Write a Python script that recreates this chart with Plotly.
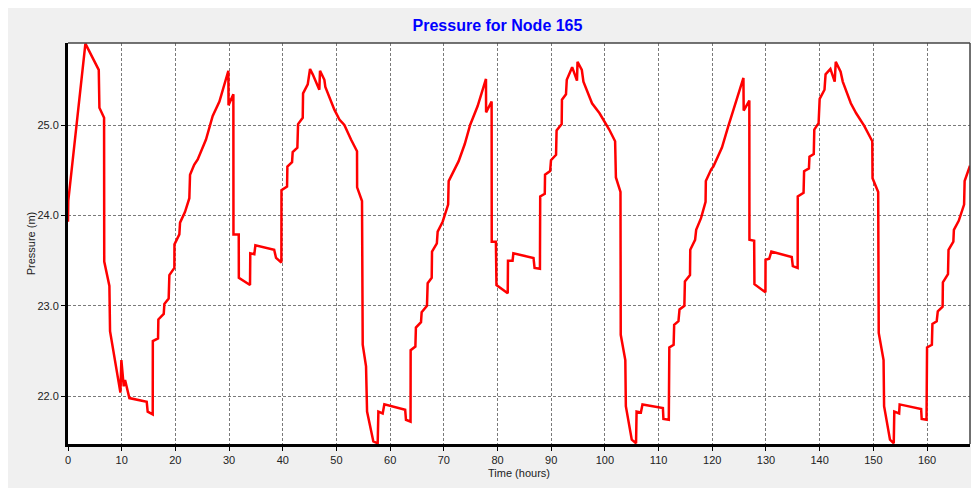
'''
pressure time series for a single node
'''

import plotly.graph_objects as go

# time (hours) and pressure (m)
hours = [
    0, 0.05, 3.24, 5.73, 5.85, 6.72, 6.75, 7.71, 7.83, 9.76, 9.94, 10.38, 10.63, 11.43,
    14.66, 14.84, 15.78, 15.8, 16.77, 16.83, 17.83, 17.95, 18.75, 18.88, 19.81, 19.83,
    20.74, 20.87, 21.8, 22.6, 22.73, 23.5, 24.16, 25.7, 26.95, 28.2, 29.87,
    29.9, 30.8, 30.82, 31.8, 31.82, 33.9, 33.95, 34.7, 34.9, 38.4, 38.75, 39.74, 39.76,
    40.8, 40.86, 41.73, 41.85, 42.72, 42.85, 43.72, 43.78, 44.65, 45.08, 45.58, 46.81,
    46.94, 47.75, 47.93, 49.61, 50.55, 51.47, 52.71, 53.83, 53.85, 54.76, 54.89, 55.51,
    55.7, 56.87, 57.68, 57.81, 58.61, 58.92, 62.8, 62.95, 63.8, 63.82, 64.7, 64.8,
    65.75, 65.87, 66.86, 66.99, 67.74, 67.8, 68.7, 68.85, 69.78, 70.8, 70.9, 71.65,
    72.76, 73.9, 74.9, 76.3, 77.85, 77.87, 78.9, 78.92, 79.7, 79.8, 81.9, 81.95, 82.8,
    82.95, 86.7, 86.9, 87.9, 87.95, 88.8, 88.85, 89.8, 89.96, 90.9, 91.0, 91.95, 92.0,
    92.75, 92.9, 93.9, 94.8, 94.9, 95.7, 96.0, 97.6, 99.0, 100.8, 101.9, 102.05, 102.9,
    102.95, 103.8, 103.9, 105.0, 105.8, 105.9, 106.7, 107.0, 110.8, 110.9, 111.9, 112.0,
    112.8, 112.9, 113.7, 113.9, 114.8, 114.9, 115.85, 115.9, 116.8, 117.0, 117.9, 118.75,
    118.8, 119.8, 120.2, 121.8, 122.9, 124.1, 125.8, 125.85, 126.9, 126.92, 127.8, 127.85,
    129.9, 129.92, 130.6, 131.0, 134.8, 135.0, 135.9, 135.92, 137.0, 137.1, 138.0, 138.1,
    138.9, 139.0, 139.8, 140.0, 140.9, 141.1, 142.0, 142.8, 143.0, 143.9, 144.3, 145.8,
    146.8, 148.3, 149.8, 149.85, 150.9, 151.0, 151.9, 152.0, 153.1, 153.8, 153.9, 154.8,
    154.9, 158.9, 159.0, 159.9, 160.0, 160.9, 161.0, 161.8, 162.0, 162.9, 162.95, 163.9,
    164.0, 164.9, 165.0, 165.9, 166.9, 167.0, 167.8, 168.0,
]
pressure = [
    23.93, 24.16, 25.90, 25.61, 25.19, 25.08, 23.49, 23.22, 22.72, 22.04, 22.40, 22.11, 22.18, 21.98,
    21.94, 21.83, 21.80, 22.61, 22.64, 22.85, 22.91, 23.02, 23.08, 23.34, 23.42, 23.68,
    23.79, 23.92, 24.04, 24.19, 24.45, 24.56, 24.62, 24.84, 25.10, 25.26, 25.60,
    25.22, 25.34, 23.79, 23.79, 23.31, 23.23, 23.58, 23.57, 23.67, 23.62, 23.53, 23.48, 24.28,
    24.32, 24.54, 24.59, 24.70, 24.75, 25.01, 25.08, 25.35, 25.45, 25.62, 25.56, 25.39,
    25.60, 25.50, 25.42, 25.17, 25.06, 25.00, 24.84, 24.71, 24.31, 24.16, 22.57, 22.33,
    21.83, 21.50, 21.48, 21.83, 21.81, 21.91, 21.85, 21.74, 21.72, 22.51, 22.55, 22.76,
    22.82, 22.93, 23.00, 23.25, 23.31, 23.60, 23.69, 23.82, 23.93, 24.12, 24.38, 24.47,
    24.60, 24.79, 25.00, 25.21, 25.51, 25.14, 25.26, 23.71, 23.71, 23.23, 23.14, 23.50, 23.50,
    23.58, 23.53, 23.42, 23.41, 24.21, 24.24, 24.45, 24.49, 24.61, 24.67, 24.94, 25.01, 25.28,
    25.34, 25.50, 25.64, 25.49, 25.70, 25.61, 25.48, 25.24, 25.13, 24.95, 24.82, 24.42, 24.26,
    22.68, 22.40, 21.89, 21.52, 21.48, 21.83, 21.82, 21.91, 21.87, 21.75, 21.74, 22.54,
    22.57, 22.79, 22.83, 22.96, 23.00, 23.27, 23.34, 23.62, 23.73, 23.84, 23.97, 24.15,
    24.38, 24.51, 24.54, 24.75, 24.97, 25.19, 25.52, 25.16, 25.27, 23.73, 23.72, 23.24,
    23.15, 23.51, 23.52, 23.60, 23.54, 23.44, 23.42, 24.21, 24.25, 24.49, 24.52, 24.65,
    24.68, 24.95, 25.02, 25.29, 25.39, 25.56, 25.62, 25.48, 25.70, 25.59, 25.48, 25.24,
    25.13, 24.99, 24.82, 24.41, 24.26, 22.70, 22.40, 21.89, 21.52, 21.48, 21.83, 21.81,
    21.91, 21.86, 21.75, 21.74, 22.54, 22.57, 22.80, 22.83, 22.94, 22.99, 23.26, 23.35,
    23.62, 23.71, 23.84, 23.94, 24.12, 24.38, 24.52, 24.55,
]

x_ticks = list(range(0, 170, 10))
y_ticks = [22.0, 23.0, 24.0, 25.0]

FONT = 'Arial, Liberation Sans, sans-serif'
GRID = dict(showgrid=True, gridcolor='#7a7a7a', gridwidth=1, griddash='3px,2px',
            zeroline=False, showline=True, linecolor='black', linewidth=3,
            ticks='outside', ticklen=4, tickcolor='black', automargin=False,
            tickfont=dict(family=FONT, size=11, color='#222'))

fig = go.Figure()
fig.add_trace(go.Scatter(x=hours, y=pressure, mode='lines',
                         line=dict(color='#ff0000', width=2.5), showlegend=False))

# the page body adds an 8px offset, so the margins are set 8px short
fig.update_layout(
    width=979, height=488,
    margin=dict(l=60, r=17, t=35, b=52),
    paper_bgcolor='#f0f0f0', plot_bgcolor='white',
    title=dict(text='<b>Pressure for Node 165</b>', xref='container', yref='container',
               x=0.5, y=0.965, xanchor='center', yanchor='middle',
               font=dict(family=FONT, size=16, color='#0000ff')),
    xaxis=dict(range=[0, 168], tickvals=x_ticks,
               title=dict(text='Time (hours)', standoff=5,
                          font=dict(family=FONT, size=11, color='#222')),
               **GRID),
    yaxis=dict(range=[21.472, 25.907], tickvals=y_ticks, tickformat='.1f',
               title=dict(text='Pressure (m)', standoff=0,
                          font=dict(family=FONT, size=11, color='#222')),
               **GRID),
    shapes=[
        # thin top and right frame lines
        dict(type='line', xref='paper', yref='paper', x0=0, x1=1, y0=1, y1=1,
             line=dict(color='#444', width=1.5)),
        dict(type='line', xref='paper', yref='paper', x0=1, x1=1, y0=0, y1=1,
             line=dict(color='#444', width=1.5)),
    ],
)

fig.write_html("out.html")
